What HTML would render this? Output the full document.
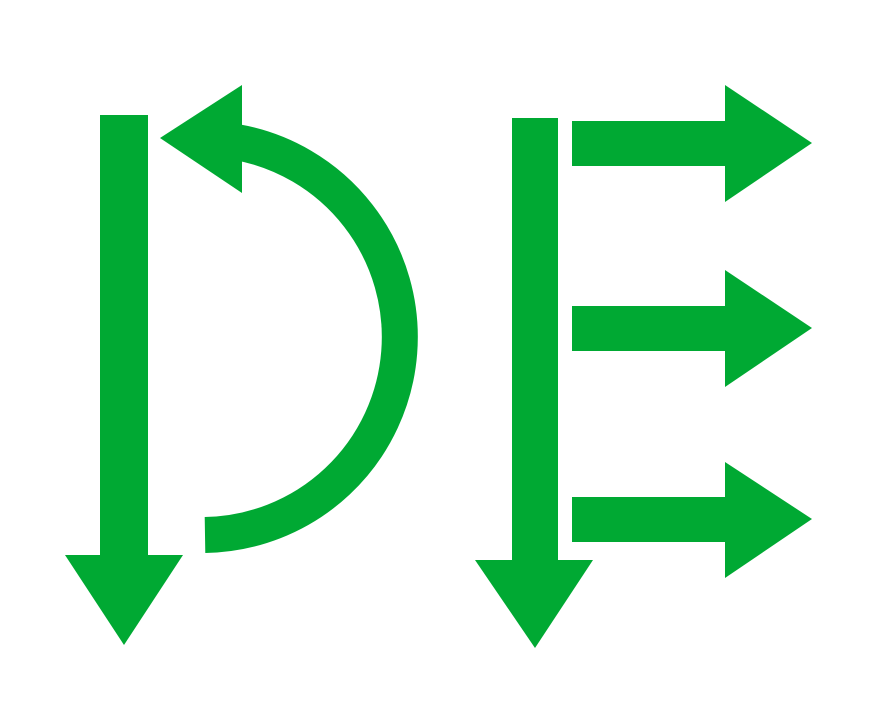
<!DOCTYPE html>
<html>
<head>
<meta charset="utf-8">
<style>
html,body{margin:0;padding:0;background:#fff;}
svg{display:block;}
</style>
</head>
<body>
<svg width="873" height="727" viewBox="0 0 873 727">
  <rect width="873" height="727" fill="#fff"/>
  <g fill="#00a933">
    <rect x="100" y="115" width="48" height="442"/>
    <polygon points="65,555 183,555 124,645"/>
    <path d="M236,142 A198,198 0 0 1 205,535" fill="none" stroke="#00a933" stroke-width="36"/>
    <polygon points="160,138 242,85 242,193"/>
  </g>
  <g fill="#00a933">
    <rect x="512" y="118" width="46" height="444"/>
    <polygon points="475,560 593,560 535,648"/>
    <rect x="572" y="121" width="156" height="45"/>
    <polygon points="725,85 725,202 812,143"/>
    <rect x="572" y="306" width="156" height="45"/>
    <polygon points="725,270 725,387 812,328"/>
    <rect x="572" y="497" width="156" height="45"/>
    <polygon points="725,462 725,578 812,519"/>
  </g>
</svg>
</body>
</html>
